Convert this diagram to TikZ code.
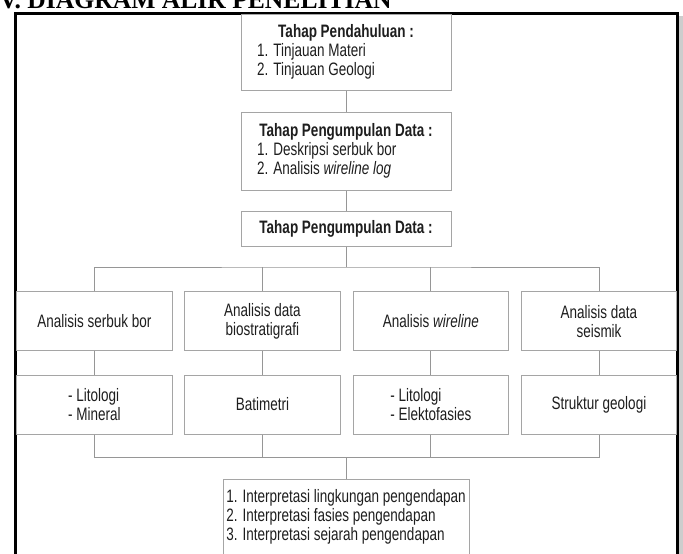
\documentclass[tikz,border=0pt]{standalone}
\usepackage{fontspec}
\setmainfont{Liberation Sans}[FakeStretch=0.75]
\newfontfamily\judulfont{Liberation Serif}

\tikzset{every picture/.style={line width=0.75pt}}
\tikzset{
  kotak/.style={draw={rgb, 255:red, 165; green, 165; blue, 165}, inner sep=0pt, text={rgb, 255:red, 30; green, 30; blue, 30}, font=\fontsize{13.5}{14.25}\selectfont},
  kotakkecil/.style={kotak, minimum width=116.6pt, minimum height=44.25pt, align=center},
  garis/.style={draw={rgb, 255:red, 150; green, 150; blue, 150}},
}

\begin{document}
\begin{tikzpicture}[x=0.75pt,y=0.75pt,yscale=-1,xscale=1]
    \useasboundingbox (0,0) rectangle (683,554);
    \fill [white] (0,0) rectangle (683,554);

    % Text Node
    \draw (-1,8.5) node [anchor=base west][inner sep=0pt] (judul) {\judulfont\bfseries\fontsize{19.2}{22}\selectfont V. DIAGRAM ALIR PENELITIAN};
    %Shape: Shadow
    \fill [color={rgb, 255:red, 205; green, 205; blue, 205}] (678.5,16) rectangle (682.5,560);
    %Shape: Frame
    \draw [line width=2.25pt] (15,560) -- (15,13) -- (677,13) -- (677,560);

    % Text Node
    \draw (346,52) node [kotak, minimum width=157.5pt, minimum height=57pt, align=left] (tahap1) {\makebox[133.5pt]{\bfseries Tahap Pendahuluan :}\\1. Tinjauan Materi\\2. Tinjauan Geologi};
    % Text Node
    \draw (346,151) node [kotak, minimum width=157.5pt, minimum height=58.5pt, align=left] (tahap2) {\makebox[133.5pt]{\bfseries Tahap Pengumpulan Data :}\\1. Deskripsi serbuk bor\\2. Analisis \textit{wireline log}};
    % Text Node
    \draw (346,228.5) node [kotak, minimum width=157.5pt, minimum height=26.25pt] (tahap3) {\bfseries Tahap Pengumpulan Data :};

    % Text Node
    \draw (94.3,321.2) node [kotakkecil] (a1) {Analisis serbuk bor};
    % Text Node
    \draw (262.4,321.2) node [kotakkecil] (b1) {Analisis data\\biostratigrafi};
    % Text Node
    \draw (430.8,321.2) node [kotakkecil] (c1) {Analisis \textit{wireline}};
    % Text Node
    \draw (599,321.2) node [kotakkecil] (d1) {Analisis data\\seismik};

    % Text Node
    \draw (94.3,404.5) node [kotakkecil, align=left] (a2) {- Litologi\\- Mineral};
    % Text Node
    \draw (262.4,404.5) node [kotakkecil] (b2) {Batimetri};
    % Text Node
    \draw (430.8,404.5) node [kotakkecil, align=left] (c2) {- Litologi\\- Elektofasies};
    % Text Node
    \draw (599,404.5) node [kotakkecil] (d2) {Struktur geologi};

    % Text Node
    \draw (346,517) node [kotak, minimum width=184.5pt, minimum height=57pt, align=left] (hasil) {1. Interpretasi lingkungan pengendapan\\2. Interpretasi fasies pengendapan\\3. Interpretasi sejarah pengendapan};

    %Shape: Connectors
    \coordinate (busatas) at (346,267);
    \coordinate (busbawah) at (346,457.5);
    \draw [garis] (tahap1) -- (tahap2);
    \draw [garis] (tahap2) -- (tahap3);
    \draw [garis] (tahap3) -- (busatas);
    \draw [garis] (a1.north) |- (busatas) -| (d1.north);
    \draw [garis] (b1.north) -- (b1.north |- busatas);
    \draw [garis] (c1.north) -- (c1.north |- busatas);
    \foreach \k in {a,b,c,d} {
        \draw [garis] (\k1) -- (\k2);
    }
    \draw [garis] (a2.south) |- (busbawah) -| (d2.south);
    \draw [garis] (b2.south) -- (b2.south |- busbawah);
    \draw [garis] (c2.south) -- (c2.south |- busbawah);
    \draw [garis] (busbawah) -- (hasil);
\end{tikzpicture}
\end{document}
